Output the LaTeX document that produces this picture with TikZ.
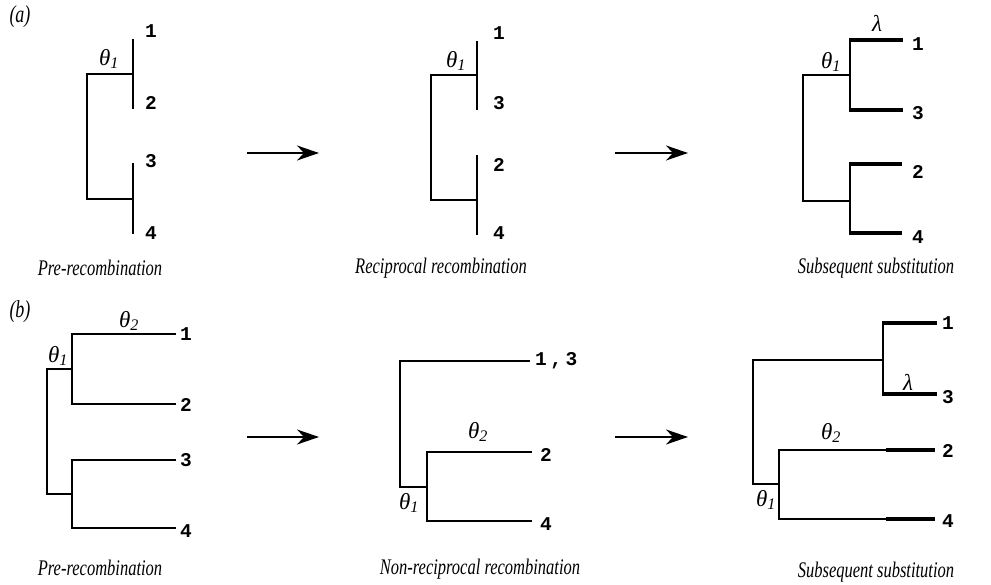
\documentclass[tikz,border=0pt]{standalone}
\usepackage{fontspec}
\setmainfont{Liberation Serif}
\newfontfamily\leaffont{Liberation Mono}
\usetikzlibrary{arrows.meta}
\newcommand{\tallcap}[1]{\scalebox{1}[1.35]{#1}}
\begin{document}
\begin{tikzpicture}[x=1pt,y=-1pt,
  br/.style={line width=1.7pt},
  heavy/.style={line width=4.5pt},
  leaf/.style={font=\leaffont\bfseries\fontsize{19.5}{19.5}\selectfont, anchor=west, inner sep=0pt},
  caption/.style={font=\itshape\fontsize{16.5}{18}\selectfont, inner sep=0pt},
  plabel/.style={font=\itshape\fontsize{18}{18}\selectfont, inner sep=0pt},
  glabel/.style={font=\itshape\fontsize{23}{23}\selectfont, inner sep=0pt},
  arr/.style={line width=1.8pt,-{Stealth[length=22pt,width=15pt,inset=7pt]}}
]
\useasboundingbox (0,0) rectangle (991,585);

% ---------------- (a) ----------------
\node[plabel] (pa) at (20,17) {\tallcap{(a)}};
% a1
\draw[br] (133,39) -- (133,109);
\draw[br] (133,74) -- (87,74) -- (87,199) -- (133,199);
\draw[br] (133,163) -- (133,234);
\node[leaf] (a1l1) at (145,31) {1};
\node[leaf] (a1l2) at (145,103) {2};
\node[leaf] (a1l3) at (145,161) {3};
\node[leaf] (a1l4) at (145,233) {4};
\node[glabel] (a1t) at (109,59) {θ\textsubscript{1}};
\node[caption] (a1c) at (100,268) {\tallcap{Pre-recombination}};
% arrow
\coordinate (aa1s) at (247,153);
\coordinate (aa1e) at (319,153);
\draw[arr] (aa1s) -- (aa1e);
% a2
\draw[br] (477,41) -- (477,110);
\draw[br] (477,75) -- (431,75) -- (431,200) -- (477,200);
\draw[br] (477,155) -- (477,235);
\node[leaf] (a2l1) at (493,33) {1};
\node[leaf] (a2l3) at (493,103) {3};
\node[leaf] (a2l2) at (493,165) {2};
\node[leaf] (a2l4) at (493,233) {4};
\node[glabel] (a2t) at (456,61) {θ\textsubscript{1}};
\node[caption] (a2c) at (441,268) {\tallcap{Reciprocal recombination}};
\coordinate (aa2s) at (615,153);
\coordinate (aa2e) at (688,153);
\draw[arr] (aa2s) -- (aa2e);
% a3
\draw[br] (850,40) -- (850,110);
\draw[br] (850,75) -- (803,75) -- (803,201) -- (850,201);
\draw[br] (850,164) -- (850,233);
\draw[heavy] (849,40) -- (903,40);
\draw[heavy] (849,110) -- (903,110);
\draw[heavy] (849,164) -- (902,164);
\draw[heavy] (849,233) -- (902,233);
\node[leaf] (a3l1) at (912,44) {1};
\node[leaf] (a3l3) at (912,113) {3};
\node[leaf] (a3l2) at (912,172) {2};
\node[leaf] (a3l4) at (912,237) {4};
\node[glabel] (a3t) at (831,62) {θ\textsubscript{1}};
\node[glabel] (a3g) at (877,23) {λ};
\node[caption] (a3c) at (876,268) {\tallcap{Subsequent substitution}};

% ---------------- (b) ----------------
\node[plabel] (pb) at (20,312) {\tallcap{(b)}};
% b1
\draw[br] (176,334) -- (72,334) -- (72,404) -- (176,404);
\draw[br] (72,369) -- (47,369) -- (47,494) -- (72,494);
\draw[br] (176,460) -- (72,460) -- (72,528) -- (176,528);
\node[leaf] (b1l1) at (180,334) {1};
\node[leaf] (b1l2) at (180,405) {2};
\node[leaf] (b1l3) at (180,460) {3};
\node[leaf] (b1l4) at (180,531) {4};
\node[glabel] (b1t2) at (129,321) {θ\textsubscript{2}};
\node[glabel] (b1t1) at (58,356) {θ\textsubscript{1}};
\node[caption] (b1c) at (100,568) {\tallcap{Pre-recombination}};
\coordinate (ba1s) at (247,437);
\coordinate (ba1e) at (319,437);
\draw[arr] (ba1s) -- (ba1e);
% b2
\draw[br] (530,361) -- (400,361) -- (400,487) -- (427,487);
\draw[br] (532,452) -- (427,452) -- (427,521) -- (532,521);
\node[leaf] (b2l13) at (535,361) {1\kern3.5pt,\kern3.5pt3};
\node[leaf] (b2l2) at (540,455) {2};
\node[leaf] (b2l4) at (540,524) {4};
\node[glabel] (b2t2) at (478,432) {θ\textsubscript{2}};
\node[glabel] (b2t1) at (409,503) {θ\textsubscript{1}};
\node[caption] (b2c) at (480,569) {\tallcap{Non-reciprocal recombination}};
\coordinate (ba2s) at (615,437);
\coordinate (ba2e) at (688,437);
\draw[arr] (ba2s) -- (ba2e);
% b3
\draw[br] (883,323) -- (883,394);
\draw[br] (883,360) -- (753,360) -- (753,484) -- (779,484);
\draw[br] (886,450) -- (779,450) -- (779,519) -- (886,519);
\draw[heavy] (882,323) -- (937,323);
\draw[heavy] (882,394) -- (937,394);
\draw[heavy] (886,450) -- (935,450);
\draw[heavy] (886,519) -- (935,519);
\node[leaf] (b3l1) at (942,323) {1};
\node[leaf] (b3l3) at (942,397) {3};
\node[leaf] (b3l2) at (942,451) {2};
\node[leaf] (b3l4) at (942,521) {4};
\node[glabel] (b3t2) at (831,433) {θ\textsubscript{2}};
\node[glabel] (b3t1) at (766,500) {θ\textsubscript{1}};
\node[glabel] (b3g) at (908,382) {λ};
\node[caption] (b3c) at (876,572) {\tallcap{Subsequent substitution}};
\end{tikzpicture}
\end{document}
